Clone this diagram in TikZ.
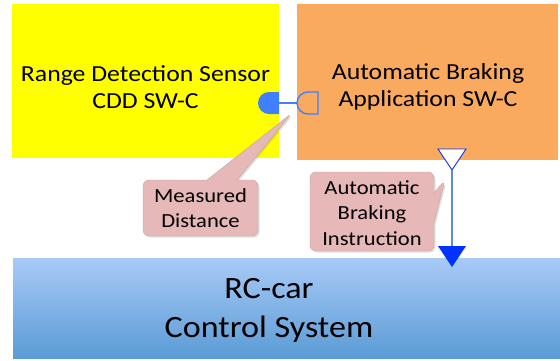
\documentclass[tikz,border=0pt]{standalone}
\usepackage{fontspec}
\setmainfont{Carlito}
\usetikzlibrary{shapes.callouts,shadows,positioning}
\definecolor{sensoryellow}{RGB}{255,255,0}
\definecolor{apporange}{RGB}{249,170,94}
\definecolor{cartop}{RGB}{168,202,247}
\definecolor{carbottom}{RGB}{91,155,213}
\definecolor{notepink}{RGB}{230,185,184}
\definecolor{noteborder}{RGB}{205,160,160}
\definecolor{portblue}{RGB}{64,128,255}
\definecolor{arrowblue}{RGB}{0,51,255}
\definecolor{wireblue}{RGB}{90,140,225}

\begin{document}
\begin{tikzpicture}[x=1pt,y=-1pt]
\tikzstyle{swc}=[inner sep=0pt, align=center, font=\fontsize{23}{27}\selectfont, xscale=1.12, transform shape]
\tikzstyle{note}=[rectangle callout, rounded corners=6pt, fill=notepink, draw=noteborder,
  inner sep=0pt, drop shadow={opacity=0.25, shadow xshift=1.5pt, shadow yshift=-1.5pt}]
\tikzstyle{notetext}=[inner sep=0pt, align=center, font=\fontsize{20}{25.5}\selectfont, xscale=1.13, transform shape]
\useasboundingbox (0,0) rectangle (560,360);

% software components
\node[fill=sensoryellow, minimum width=267pt, minimum height=154pt] (sensor) at (145.5,81) {};
\node[swc] (sensortext) at (145.5,87) {Range Detection Sensor\\CDD SW-C};
\node[fill=apporange, minimum width=261pt, minimum height=156pt] (app) at (427.5,82) {};
\node[swc] (apptext) at (428,87) {Automatic Braking\\Application SW-C};

% rc-car
\node[inner sep=0pt, minimum width=547pt, minimum height=100pt, top color=cartop, bottom color=carbottom] (car) at (286.5,308) {};
\node[align=center, font=\fontsize{31}{39}\selectfont, xscale=1.1, transform shape] (cartext) at (269,310) {RC-car\\Control System};

% sender/receiver port
\coordinate (pout) at (279,103);
\coordinate (pin) at (297,103);
\fill[portblue] (279,92) -- (269,92) arc (270:90:11) -- (279,114) -- cycle;
\draw[portblue, line width=1.4pt] (318,92) -- (308,92) arc (270:90:11) -- (318,114) -- cycle;
\draw[portblue, line width=1.2pt] (pout) -- (pin);

% braking instruction
\coordinate (iout) at (452,170);
\coordinate (iin) at (452,246);
\draw[arrowblue, fill=white, line width=0.9pt] (438,149) -- (466,149) -- (iout) -- cycle;
\draw[wireblue, line width=1.2pt] (iout) -- (iin);
\fill[arrowblue] (438,246) -- (466,246) -- (452,267) -- cycle;

% callouts
\node[note, minimum width=115pt, minimum height=56pt, callout absolute pointer={(292,113)},
  callout pointer width=30pt] (dist) at (200.5,208) {};
\node[notetext] (disttext) at (dist) {Measured\\Distance};
\node[note, minimum width=124pt, minimum height=79pt, callout absolute pointer={(445,180)},
  callout pointer width=30pt] (instr) at (372,211.5) {};
\node[notetext] (instrtext) at ([yshift=-1.5pt]instr) {Automatic\\Braking\\Instruction};

\end{tikzpicture}
\end{document}
